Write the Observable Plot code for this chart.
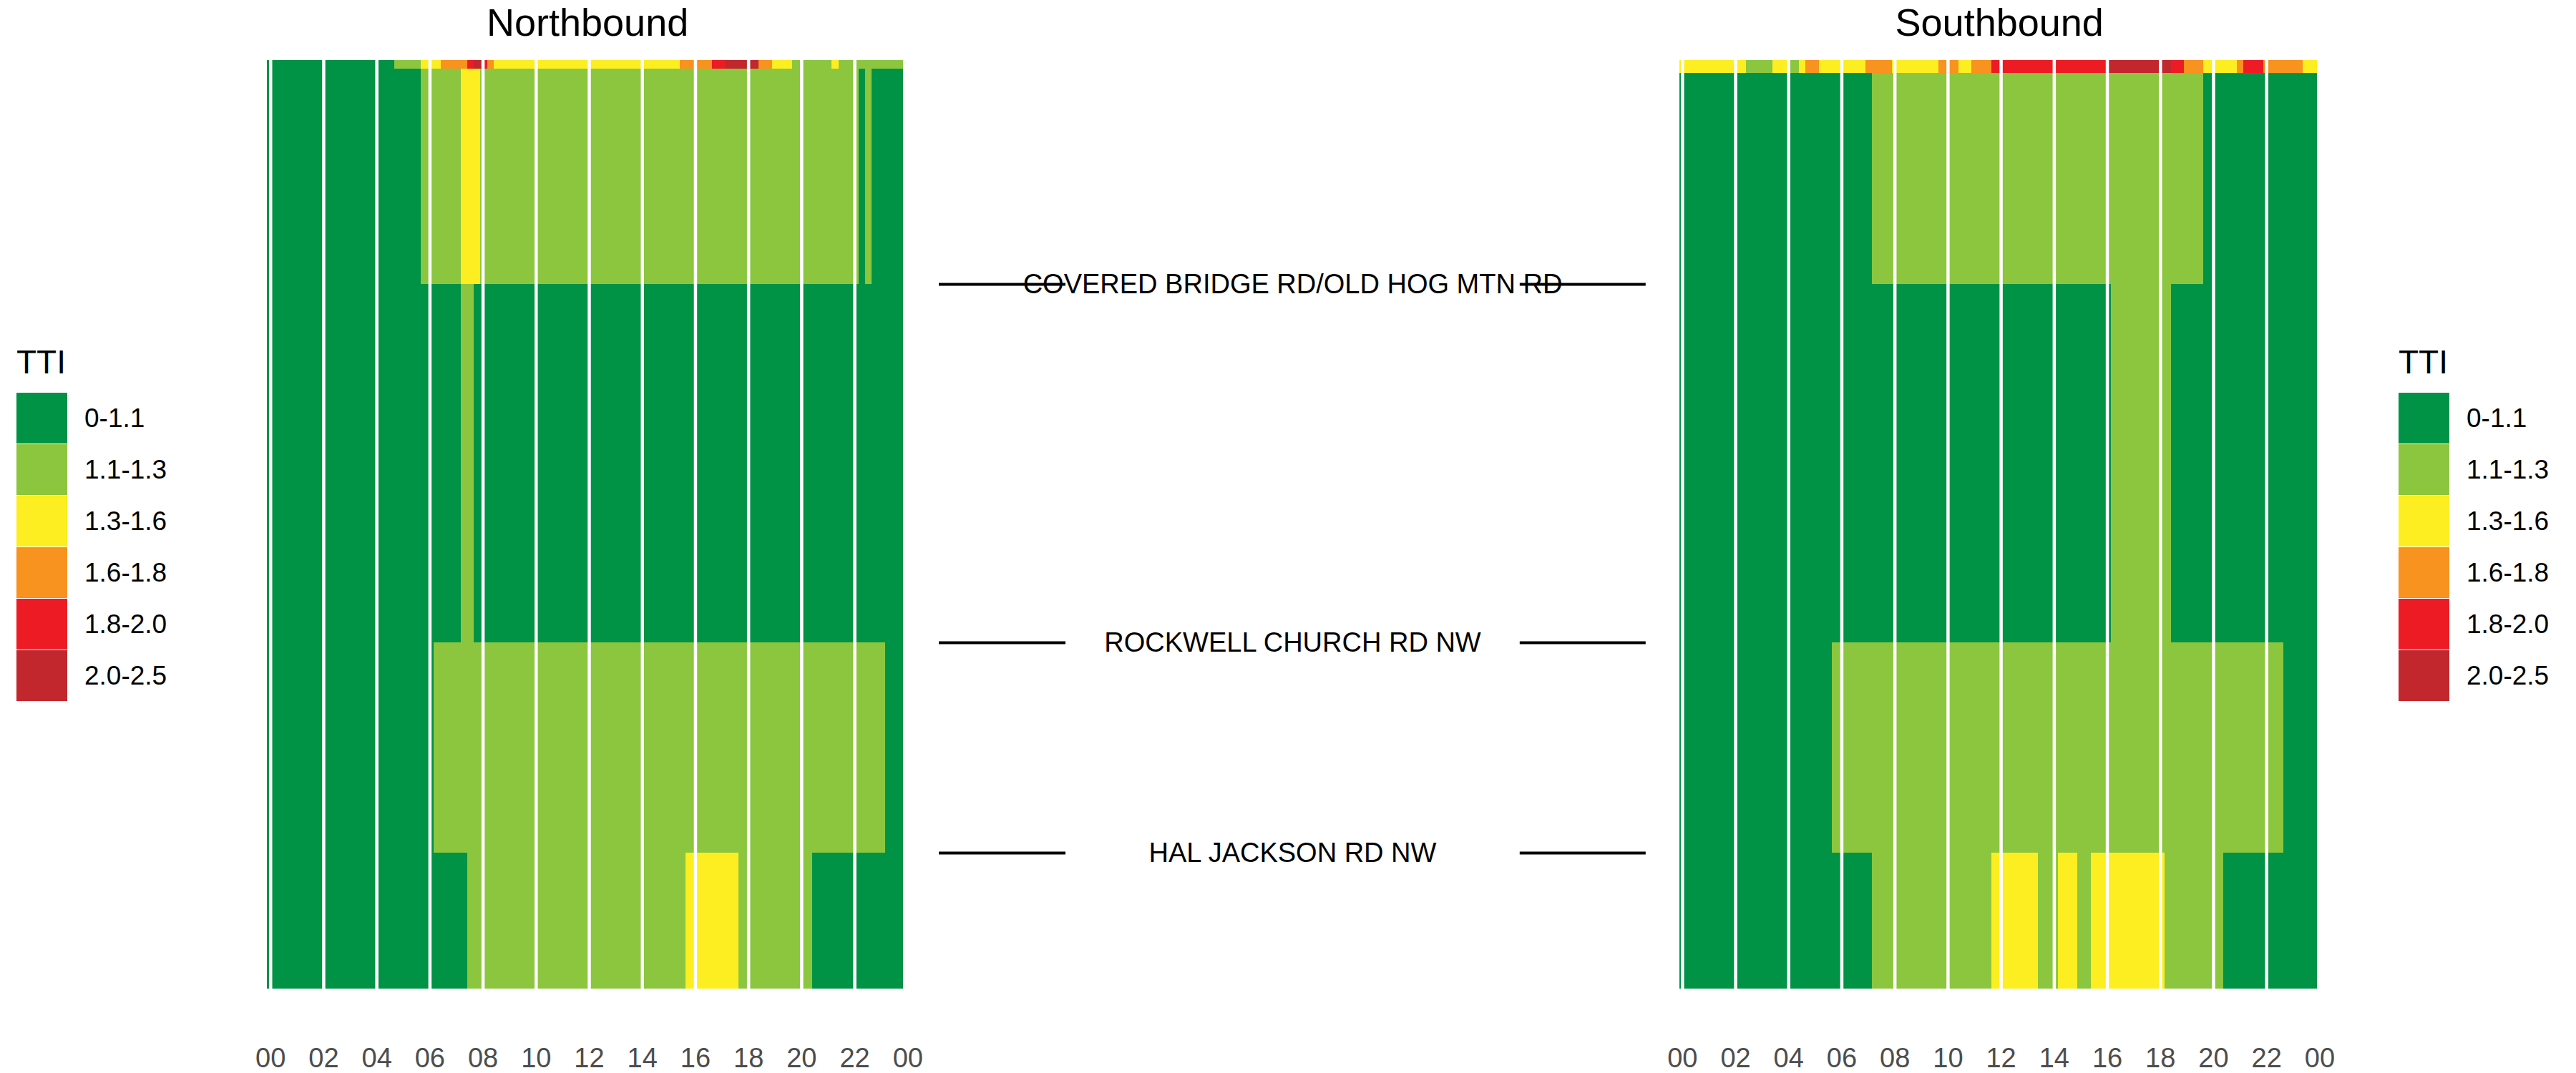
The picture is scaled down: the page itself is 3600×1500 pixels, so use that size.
<!DOCTYPE html>
<html>
<head>
<meta charset="utf-8">
<script src="https://cdn.jsdelivr.net/npm/d3@7"></script>
<script src="https://cdn.jsdelivr.net/npm/@observablehq/plot@0.6"></script>
<style>
  html, body { margin: 0; padding: 0; background: #ffffff; }
  #wrap { position: relative; width: 3600px; height: 1500px; font-family: "Liberation Sans", Arial, sans-serif; }
  #chart { position: absolute; left: 0; top: 0; }
  .legend { position: absolute; top: 483px; }
  .legend .ttl { font-size: 46px; line-height: 46px; height: 66px; color: #000; }
  .legend .row { display: flex; align-items: center; height: 72px; }
  .legend .sw { width: 71px; height: 71px; margin-right: 24px; align-self: flex-start; }
  .legend .lab { font-size: 37px; line-height: 37px; color: #000; margin-top: -1px; }
</style>
</head>
<body>
<div id="wrap"><div id="chart"></div></div>
<script>
// ---------- data ----------
const directions = ["Northbound", "Southbound"];
const ttiLevels = ["0-1.1", "1.1-1.3", "1.3-1.6", "1.6-1.8", "1.8-2.0", "2.0-2.5"];
const ttiColors = ["#009245", "#8cc63f", "#fcee21", "#f7931e", "#ed1c24", "#c1272d"];
const hourTicks = [0, 2, 4, 6, 8, 10, 12, 14, 16, 18, 20, 22, 24];
const hourLabels = ["00", "02", "04", "06", "08", "10", "12", "14", "16", "18", "20", "22", "00"];
const segmentNames = ["COVERED BRIDGE RD/OLD HOG MTN RD", "ROCKWELL CHURCH RD NW", "HAL JACKSON RD NW"];
const segmentMiles = [1.565, 4.07, 5.54];

// row edges (miles from top of corridor)
const nbRowEdges = [0, 0.06, 1.565, 4.07, 5.54, 6.49];
const sbRowEdges = [0, 0.09, 1.565, 4.07, 5.54, 6.49];

// runs per row: [start hour, end hour, TTI level index]
const nbRuns = [
  [[-0.13, 4.67, 0], [4.67, 5.67, 1], [5.67, 6.43, 2], [6.43, 7.42, 3], [7.42, 7.66, 4], [7.66, 8.0, 5],
   [8.0, 8.16, 4], [8.16, 8.42, 3], [8.42, 15.41, 2], [15.41, 16.64, 3], [16.64, 17.16, 4], [17.16, 18.40, 5],
   [18.40, 18.90, 3], [18.90, 19.66, 2], [19.66, 21.14, 1], [21.14, 21.41, 2], [21.41, 23.82, 1]],
  [[-0.13, 5.67, 0], [5.67, 7.17, 1], [7.17, 7.90, 2], [7.90, 22.16, 1], [22.16, 22.41, 0], [22.41, 22.64, 1], [22.64, 23.82, 0]],
  [[-0.13, 7.17, 0], [7.17, 7.66, 1], [7.66, 23.82, 0]],
  [[-0.13, 6.16, 0], [6.16, 23.16, 1], [23.16, 23.82, 0]],
  [[-0.13, 7.42, 0], [7.42, 15.65, 1], [15.65, 17.64, 2], [17.64, 20.42, 1], [20.42, 23.82, 0]]
];
const sbRuns = [
  [[-0.11, 2.40, 2], [2.40, 3.41, 1], [3.41, 4.0, 2], [4.0, 4.41, 1], [4.41, 4.64, 2], [4.64, 5.15, 3],
   [5.15, 6.90, 2], [6.90, 7.90, 3], [7.90, 9.65, 2], [9.65, 10.41, 3], [10.41, 10.88, 2], [10.88, 11.64, 3],
   [11.64, 16.0, 4], [16.0, 18.40, 5], [18.40, 18.89, 4], [18.89, 19.63, 3], [19.63, 20.89, 2], [20.89, 21.14, 3],
   [21.14, 21.88, 4], [21.88, 23.37, 3], [23.37, 23.92, 2]],
  [[-0.11, 7.14, 0], [7.14, 19.63, 1], [19.63, 23.92, 0]],
  [[-0.11, 16.14, 0], [16.14, 18.40, 1], [18.40, 23.92, 0]],
  [[-0.11, 5.64, 0], [5.64, 22.64, 1], [22.64, 23.92, 0]],
  [[-0.11, 7.14, 0], [7.14, 11.64, 1], [11.64, 13.39, 2], [13.39, 14.15, 1], [14.15, 14.89, 2], [14.89, 15.38, 1],
   [15.38, 18.16, 2], [18.16, 20.39, 1], [20.39, 23.92, 0]]
];

// ---------- build cells ----------
function buildCells(direction, edges, runs) {
  const out = [];
  runs.forEach((row, i) => {
    row.forEach(([h1, h2, k]) => {
      out.push({direction, x1: h1, x2: h2, y1: edges[i], y2: edges[i + 1], tti: ttiLevels[k]});
    });
  });
  return out;
}
const cells = [
  ...buildCells(directions[0], nbRowEdges, nbRuns),
  ...buildCells(directions[1], sbRowEdges, sbRuns)
];

const FONT = "'Liberation Sans', Arial, sans-serif";

const chart = Plot.plot({
  width: 3600,
  height: 1500,
  marginTop: 84,
  marginBottom: 118,
  marginLeft: 372.9,
  marginRight: 358.6,
  style: {fontFamily: FONT, background: "white", color: "black"},
  fx: {domain: directions, paddingInner: 0.5462, paddingOuter: 0, round: false},
  x: {domain: [-0.13, 24], round: false},
  y: {domain: [0, 6.49], reverse: true},
  color: {type: "ordinal", domain: ttiLevels, range: ttiColors},
  marks: [
    Plot.rect(cells, {x1: "x1", x2: "x2", y1: "y1", y2: "y2", fill: "tti", fx: "direction", shapeRendering: "crispEdges"}),
    Plot.ruleX(hourTicks, {x: d => d, stroke: "white", strokeWidth: 4.5}),
    Plot.axisX({
      ticks: hourTicks,
      tickFormat: d => hourLabels[hourTicks.indexOf(d)],
      tickSize: 0, tickPadding: 83, fontSize: 38, fill: "#4d4d4d", label: null
    }),
    Plot.axisFx({anchor: "top", tickSize: 0, tickPadding: 35, fontSize: 54, fill: "black", label: null}),
    Plot.axisY({
      ticks: segmentMiles,
      anchor: "right", facetAnchor: "left",
      tickSize: 177, dx: 42.7, tickPadding: 318, textAnchor: "middle",
      tickFormat: d => segmentNames[segmentMiles.indexOf(d)],
      fontSize: 38, stroke: "black", strokeWidth: 4, fill: "black", label: null
    }),
    Plot.axisY({
      ticks: segmentMiles,
      anchor: "left", facetAnchor: "right",
      tickSize: 176, dx: -46.2,
      stroke: "black", strokeWidth: 4, fill: "none", label: null
    })
  ]
});
document.getElementById("chart").appendChild(chart);

// ---------- legends (left and right) ----------
function makeLegend(left) {
  const div = document.createElement("div");
  div.className = "legend";
  div.style.left = left + "px";
  const t = document.createElement("div");
  t.className = "ttl";
  t.textContent = "TTI";
  div.appendChild(t);
  ttiLevels.forEach((lvl, i) => {
    const r = document.createElement("div");
    r.className = "row";
    const s = document.createElement("div");
    s.className = "sw";
    s.style.background = ttiColors[i];
    const l = document.createElement("div");
    l.className = "lab";
    l.textContent = lvl;
    r.appendChild(s);
    r.appendChild(l);
    div.appendChild(r);
  });
  document.getElementById("wrap").appendChild(div);
}
makeLegend(23);
makeLegend(3352);
</script>
</body>
</html>
